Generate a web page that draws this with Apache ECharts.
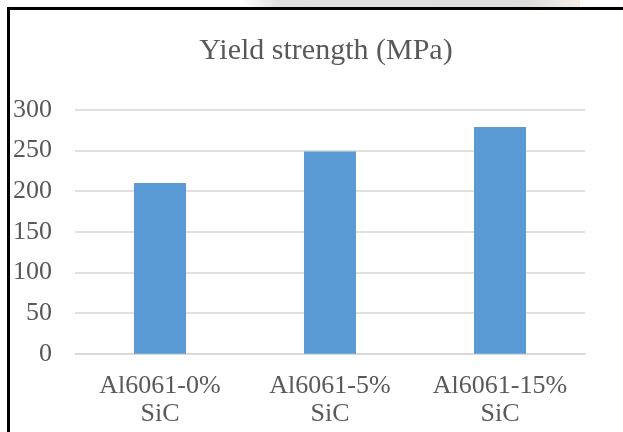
<!DOCTYPE html>
<html>
<head>
<meta charset="utf-8">
<script src="https://cdn.jsdelivr.net/npm/echarts@6/dist/echarts.min.js"></script>
<style>
  html, body { margin: 0; padding: 0; background: #ffffff; }
  #chart { width: 623px; height: 432px; }
</style>
</head>
<body>
<div id="chart"></div>
<script>
// Yield strength of Al6061 composites by SiC content
const categories = ['Al6061-0%\nSiC', 'Al6061-5%\nSiC', 'Al6061-15%\nSiC'];
const yieldStrength = [210, 249, 279];
const yTicks = [0, 50, 100, 150, 200, 250, 300];
const chartTitle = 'Yield strength (MPa)';

const textColor = '#595959';
const serif = '"Liberation Serif", "Times New Roman", serif';

const chart = echarts.init(document.getElementById('chart'), null, { renderer: 'canvas' });

chart.setOption({
  backgroundColor: '#ffffff',
  animation: false,
  title: {
    text: chartTitle,
    left: 321,
    top: 31,
    textAlign: 'center',
    textStyle: {
      fontFamily: serif,
      fontSize: 30,
      fontWeight: 'normal',
      color: textColor
    }
  },
  grid: {
    left: 75,
    right: 38,
    top: 110,
    bottom: 78.3,
    containLabel: false
  },
  xAxis: {
    type: 'category',
    data: categories,
    axisTick: { show: false },
    axisLine: { show: true, lineStyle: { color: '#d6d6d6', width: 1.5 } },
    axisLabel: {
      interval: 0,
      hideOverlap: false,
      margin: 18,
      fontFamily: serif,
      fontSize: 26,
      lineHeight: 28,
      color: textColor
    }
  },
  yAxis: {
    type: 'value',
    min: yTicks[0],
    max: yTicks[yTicks.length - 1],
    interval: yTicks[1] - yTicks[0],
    axisLine: { show: false },
    axisTick: { show: false },
    splitLine: { lineStyle: { color: '#d6d6d6', width: 1.5 } },
    axisLabel: {
      margin: 23,
      fontFamily: serif,
      fontSize: 26,
      color: textColor
    }
  },
  series: [{
    type: 'bar',
    data: yieldStrength,
    barWidth: 52,
    itemStyle: { color: '#5b9bd5' }
  }],
  graphic: [
    // faint grey strip above the frame
    {
      type: 'rect',
      shape: { x: 240, y: 0, width: 340, height: 7 },
      style: {
        fill: new echarts.graphic.LinearGradient(0, 0, 1, 0, [
          { offset: 0, color: 'rgba(220,220,220,0)' },
          { offset: 0.12, color: '#dedede' },
          { offset: 0.85, color: '#dcdcdc' },
          { offset: 1, color: 'rgba(240,225,215,0.6)' }
        ])
      },
      silent: true
    },
    // chart frame: top and left edges
    {
      type: 'polyline',
      shape: { points: [[8.5, 432], [8.5, 8.5], [623, 8.5]] },
      style: { stroke: '#000000', lineWidth: 3, fill: null },
      silent: true
    }
  ]
});
</script>
</body>
</html>
